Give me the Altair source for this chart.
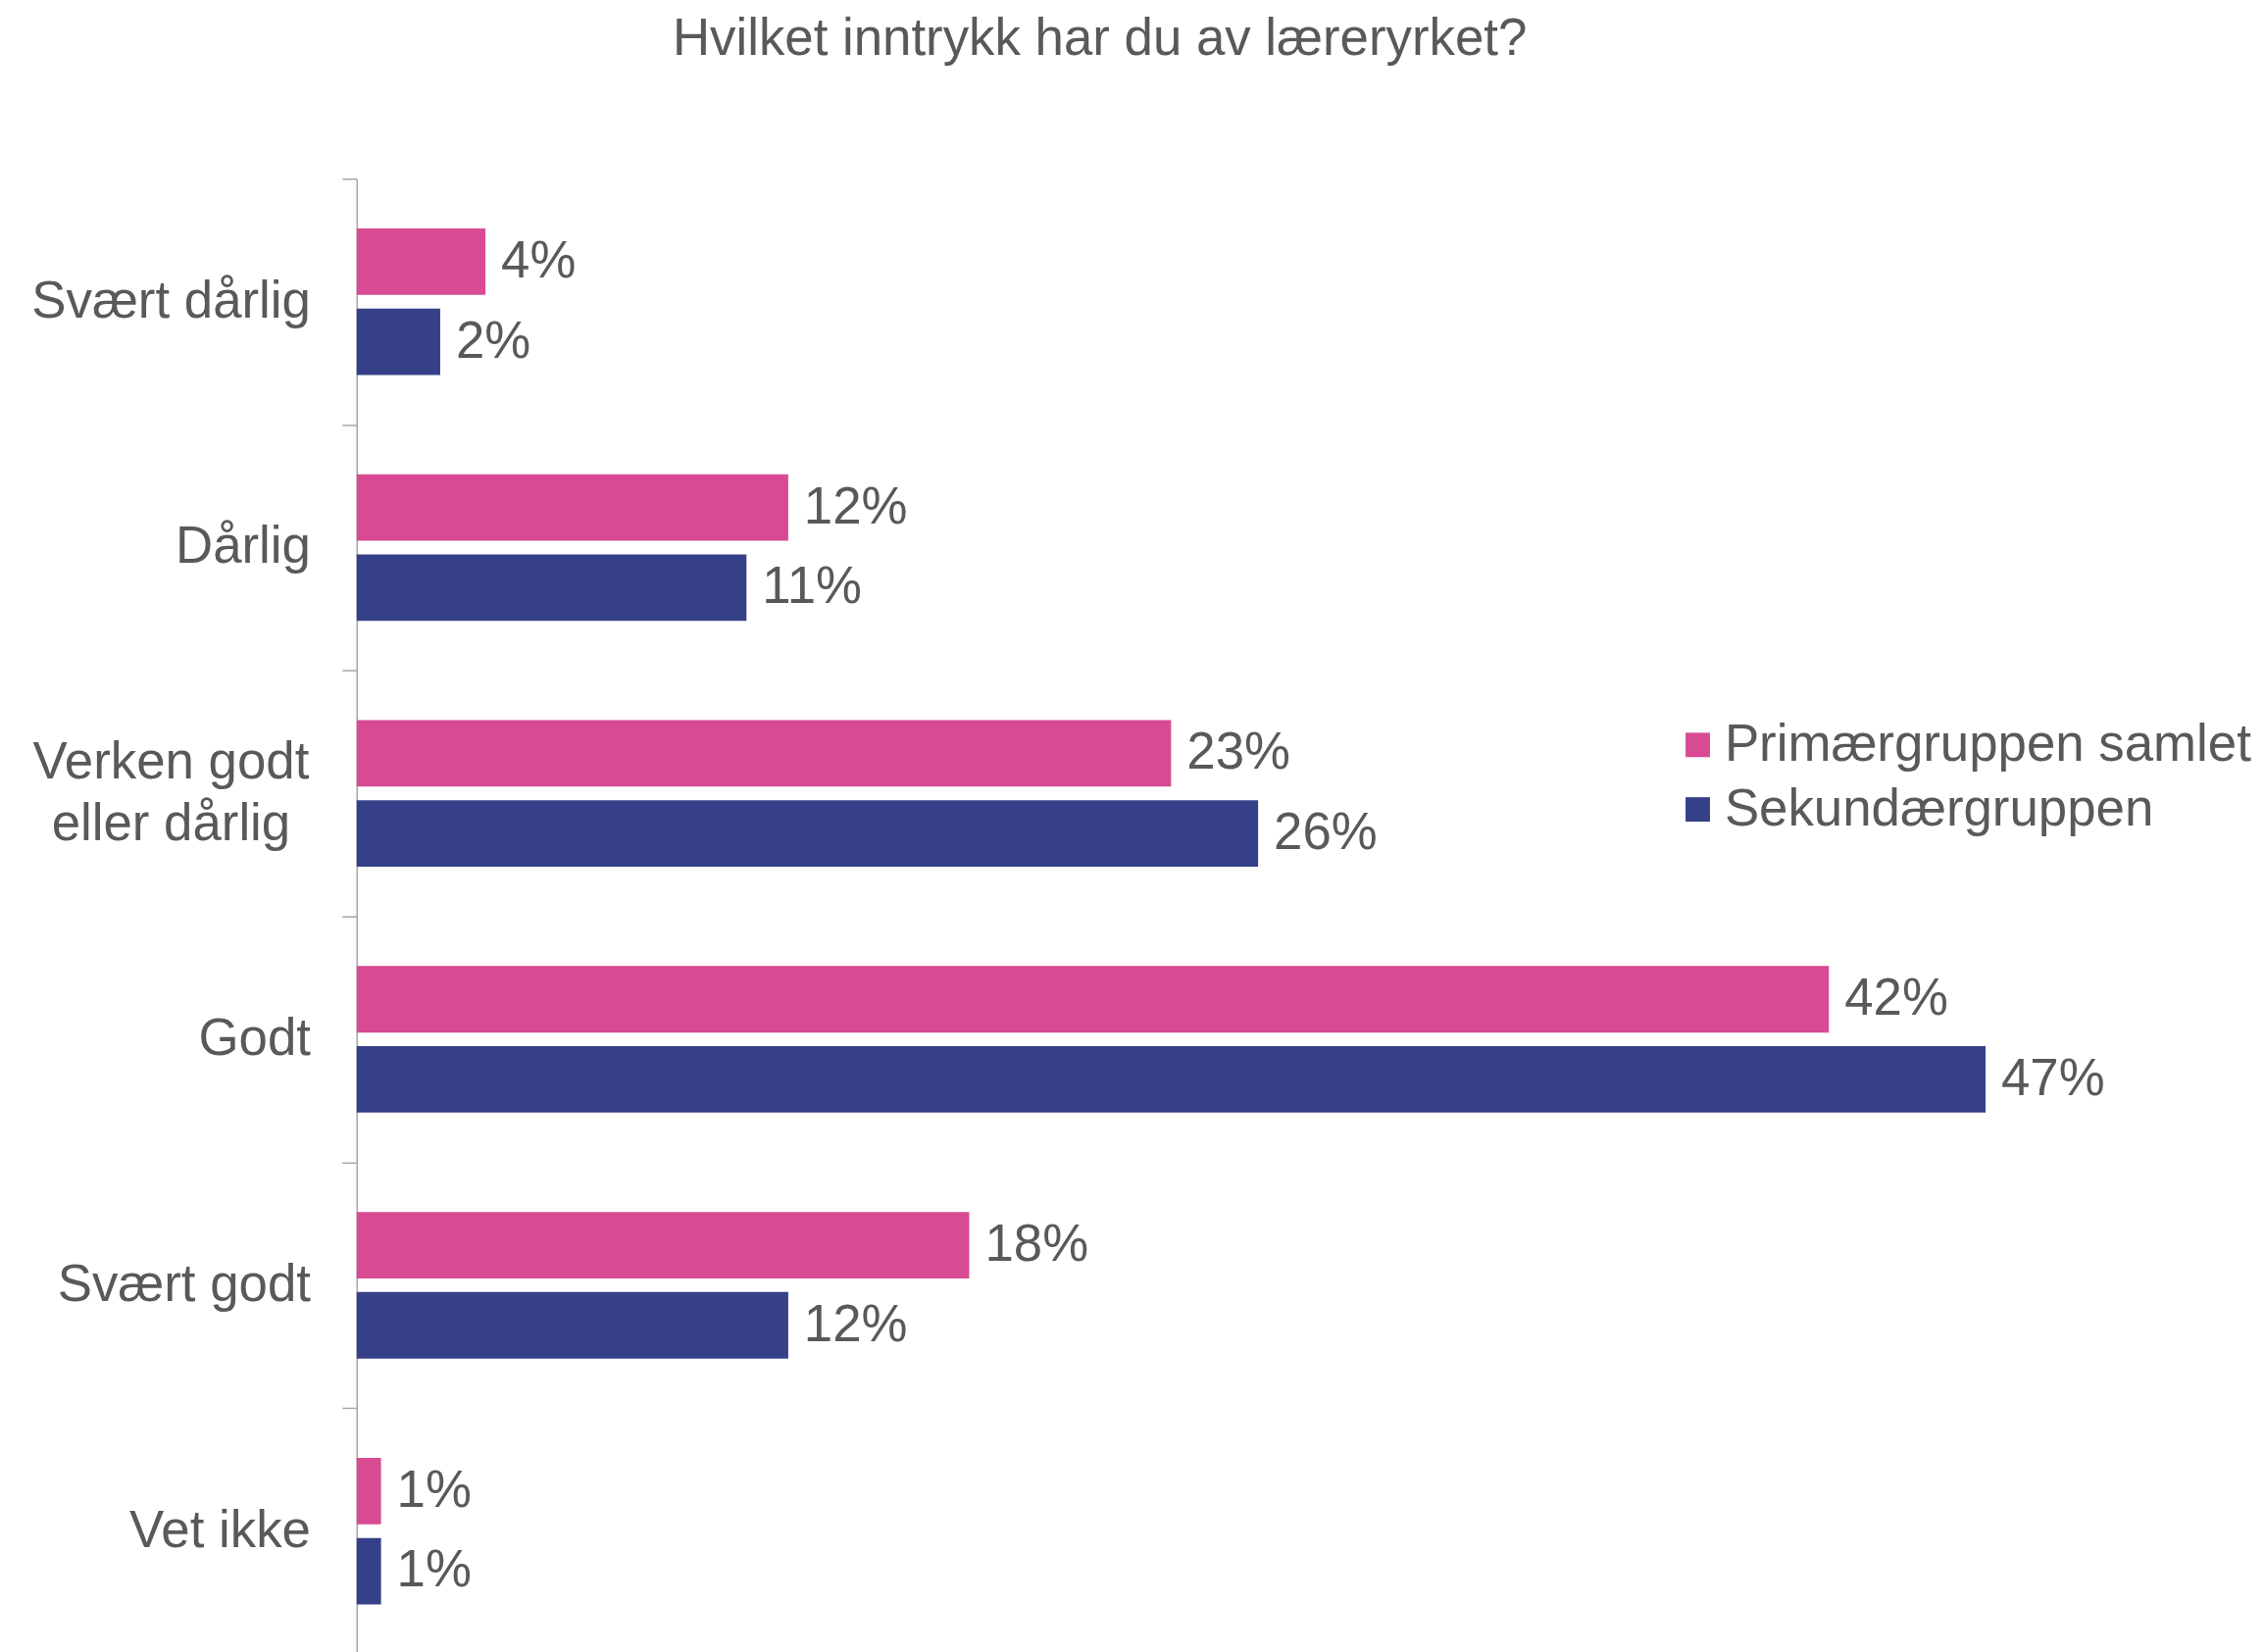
import altair as alt
import pandas as pd

categories = ["Svært dårlig", "Dårlig", "Verken godt\neller dårlig", "Godt", "Svært godt", "Vet ikke"]
series = ["Primærgruppen samlet", "Sekundærgruppen"]
primaer = [3.7, 12.4, 23.4, 42.3, 17.6, 0.7]
sekundaer = [2.4, 11.2, 25.9, 46.8, 12.4, 0.7]
colors = ["#D84B93", "#364088"]
title_text = "Hvilket inntrykk har du av læreryrket?"

rows = []
for i, c in enumerate(categories):
    rows.append({"kategori": c, "gruppe": series[0], "verdi": primaer[i]})
    rows.append({"kategori": c, "gruppe": series[1], "verdi": sekundaer[i]})
df = pd.DataFrame(rows)
cat_df = pd.DataFrame({"kategori": categories})

FONT = "Liberation Sans"
TXT = "#595959"
AXC = "#A6A6A6"

y = alt.Y(
    "kategori:N",
    sort=categories,
    scale=alt.Scale(paddingInner=0, paddingOuter=0),
    axis=alt.Axis(
        title=None, labels=False, tickSize=15, tickBand="extent", tickColor=AXC, tickWidth=1.5,
        domainColor=AXC, domainWidth=1.5, grid=False, minExtent=357, maxExtent=357,
    ),
)
yoff = alt.YOffset("gruppe:N", sort=series, scale=alt.Scale(paddingInner=0.17, paddingOuter=0.62))
x = alt.X("verdi:Q", scale=alt.Scale(domain=[0, 50], nice=False, zero=True), axis=None)

bars = alt.Chart(df).mark_bar().encode(
    x=x, y=y, yOffset=yoff,
    color=alt.Color(
        "gruppe:N", sort=series,
        scale=alt.Scale(domain=series, range=colors),
        legend=alt.Legend(
            title=None, orient="none", legendX=1346, legendY=553, padding=0,
            symbolType="square", symbolSize=625, symbolStrokeWidth=0,
            labelFont=FONT, labelFontSize=53, labelColor=TXT, labelLimit=1000,
            labelOffset=1, rowPadding=12,
        ),
    ),
)

labels = alt.Chart(df).transform_calculate(
    txt="format(datum.verdi, '.0f') + '%'"
).mark_text(
    align="left", baseline="middle", dx=16, font=FONT, fontSize=53, color=TXT
).encode(x=x, y=y, yOffset=yoff, text="txt:N")

cat_single = alt.Chart(cat_df).transform_filter(
    "indexof(datum.kategori, '\\n') < 0"
).mark_text(
    align="right", baseline="middle", font=FONT, fontSize=53, color=TXT,
).encode(x=alt.value(-47), y=y, text="kategori:N")

cat_multi = alt.Chart(cat_df).transform_filter(
    "indexof(datum.kategori, '\\n') >= 0"
).mark_text(
    align="center", baseline="middle", lineBreak="\n", lineHeight=63, dy=-31,
    font=FONT, fontSize=53, color=TXT,
).encode(x=alt.value(-190), y=y, text="kategori:N")

chart = alt.layer(bars, labels, cat_single, cat_multi).properties(
    width=1781,
    height=1510,
    title=alt.TitleParams(
        text=title_text, font=FONT, fontSize=53, fontWeight="normal", color=TXT,
        anchor="middle", frame="group", dx=-130, offset=115,
    ),
    padding={"left": 357, "top": 172, "right": 164, "bottom": 0},
    autosize=alt.AutoSizeParams(type="none"),
).configure_view(stroke=None)

chart.save("out.html", embed_options={"renderer": "svg", "actions": False})
